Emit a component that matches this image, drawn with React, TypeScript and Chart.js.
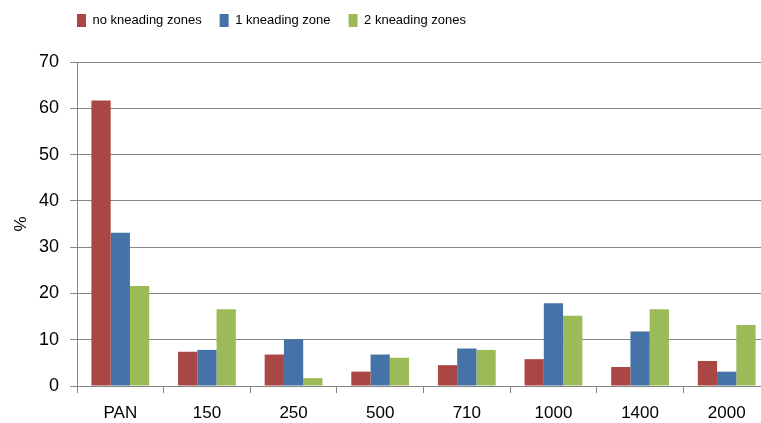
import React, { useEffect, useRef } from "react";
import { Chart, registerables } from "chart.js";

Chart.register(...registerables);

const categories = ["PAN", "150", "250", "500", "710", "1000", "1400", "2000"];
const noKneading = [61.7, 7.4, 6.8, 3.1, 4.5, 5.8, 4.1, 5.4];
const oneKneading = [33.1, 7.8, 10.1, 6.8, 8.1, 17.9, 11.8, 3.1];
const twoKneading = [21.6, 16.6, 1.7, 6.1, 7.8, 15.2, 16.6, 13.2];
const seriesLabels = ["no kneading zones", "1 kneading zone", "2 kneading zones"];
const yTicks = [0, 10, 20, 30, 40, 50, 60, 70];

const FONT = "'Liberation Sans', Arial, sans-serif";

export default function App() {
  const ref = useRef<HTMLCanvasElement | null>(null);

  useEffect(() => {
    if (!ref.current) return;
    const legendShift = {
      id: "legendShift",
      beforeLayout(chart: any) {
        const lg = chart.legend;
        if (lg && !lg.__patched) {
          lg.__patched = true;
          const origFit = lg.fit.bind(lg);
          lg.fit = function () {
            origFit();
            this.height = 62;
          };
        }
      },
      afterLayout(chart: any) {
        const lg = chart.legend;
        if (!lg) return;
        const pad = lg.options.labels.padding;
        const dx = chart.chartArea.left - pad - lg.left;
        lg.left += dx;
        lg.right += dx;
        const dy = -4 - lg.top;
        lg.top += dy;
        lg.bottom += dy;
      },
    };

    const chart = new Chart(ref.current, {
      type: "bar",
      data: {
        labels: categories,
        datasets: [
          { label: seriesLabels[0], data: noKneading, backgroundColor: "#AA4643" },
          { label: seriesLabels[1], data: oneKneading, backgroundColor: "#4572A7" },
          { label: seriesLabels[2], data: twoKneading, backgroundColor: "#9BBB59" },
        ],
      },
      plugins: [legendShift],
      options: {
        responsive: false,
        animation: false,
        layout: { padding: { left: 0, right: 2, top: 0, bottom: 0 } },
        datasets: {
          bar: { categoryPercentage: 0.667, barPercentage: 1 },
        },
        plugins: {
          legend: {
            position: "top",
            align: "start",
            fullSize: false,
            labels: {
              boxWidth: 9,
              boxHeight: 13,
              padding: 18,
              color: "#000",
              font: { family: FONT, size: 13 },
            },
          },
          tooltip: { enabled: false },
        },
        scales: {
          x: {
            afterFit(scale: any) {
              scale.height = 37;
            },
            grid: {
              drawOnChartArea: false,
              drawTicks: true,
              tickLength: 7,
              color: "#868686",
            },
            border: { color: "#868686" },
            ticks: {
              color: "#000",
              padding: 10,
              font: { family: FONT, size: 17 },
            },
          },
          y: {
            min: 0,
            max: 70,
            afterFit(scale: any) {
              scale.width = 77;
            },
            afterBuildTicks(scale: any) {
              scale.ticks = yTicks.map((v) => ({ value: v }));
            },
            grid: {
              color: "#868686",
              tickLength: 7,
            },
            border: { color: "#868686" },
            ticks: {
              color: "#000",
              padding: 11,
              font: { family: FONT, size: 18 },
            },
            title: {
              display: true,
              text: "%",
              color: "#000",
              padding: { top: 11, bottom: 0 },
              font: { family: FONT, size: 17 },
            },
          },
        },
      },
    });
    return () => chart.destroy();
  }, []);

  return (
    <div
      style={{
        position: "absolute",
        left: 0,
        top: 0,
        width: 761,
        height: 423,
        overflow: "hidden",
        background: "#fff",
      }}
    >
      <canvas ref={ref} width={772} height={423} style={{ display: "block" }} />
    </div>
  );
}
